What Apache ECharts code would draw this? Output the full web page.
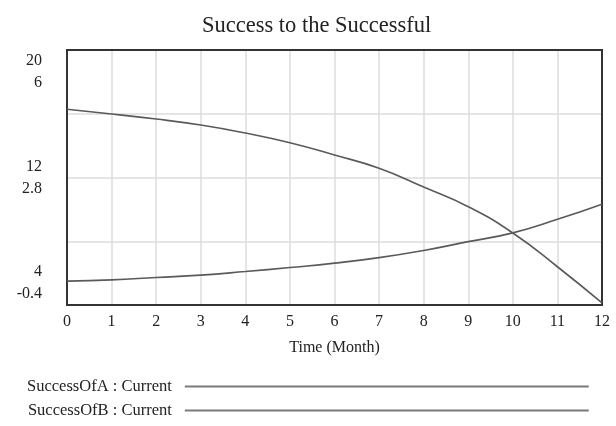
<!DOCTYPE html>
<html>
<head>
<meta charset="utf-8">
<title>Success to the Successful</title>
<script src="https://cdn.jsdelivr.net/npm/echarts@6/dist/echarts.min.js"></script>
<style>
  html, body { margin: 0; padding: 0; background: #fff; }
  #chart { width: 616px; height: 426px; }
</style>
</head>
<body>
<div id="chart"></div>
<script>
// ==================== 数据 ====================

// 时间（月）
const months = [0, 1, 2, 3, 4, 5, 6, 7, 8, 9, 10, 11, 12];

// SuccessOfA : Current（左轴上排刻度 4 ~ 20）
const successOfA = [16.28, 15.98, 15.67, 15.29, 14.79, 14.18, 13.41, 12.58, 11.40, 10.17, 8.52, 6.40, 4.13];

// SuccessOfB : Current（左轴下排刻度 -0.4 ~ 6）
const successOfB = [0.20, 0.23, 0.29, 0.35, 0.44, 0.54, 0.65, 0.79, 0.97, 1.19, 1.41, 1.75, 2.13];

// 刻度标签（两排成对显示）
const ticksA = [4, 12, 20];
const ticksB = [-0.4, 2.8, 6];

const seriesNames = ['SuccessOfA : Current', 'SuccessOfB : Current'];

// ==================== 图表 ====================

const FONT = '"Liberation Serif", "DejaVu Serif", serif';
const chart = echarts.init(document.getElementById('chart'));

// 成对的刻度文字：A 值在上，B 值在下
function pairLabel(value) {
  const i = ticksA.indexOf(value);
  if (i < 0) return '';
  return ticksA[i] + '\n' + ticksB[i];
}

const gridLine = { show: true, showMinLine: false, showMaxLine: false, lineStyle: { color: '#dcdcdc', width: 1.5 } };
const frameLine = { show: true, onZero: false, lineStyle: { color: '#333', width: 2 } };

chart.setOption({
  animation: false,
  title: {
    text: 'Success to the Successful',
    left: 197,
    top: 10,
    textStyle: { fontFamily: FONT, fontSize: 22.5, fontWeight: 'normal', color: '#222' }
  },
  grid: {
    left: 67, right: 14, top: 50, bottom: 121,
    show: true, borderColor: '#333', borderWidth: 2, z: 3
  },
  legend: {
    orient: 'vertical',
    align: 'right',
    left: 22,
    top: 373,
    itemWidth: 404,
    itemHeight: 14,
    itemGap: 7,
    data: seriesNames,
    itemStyle: { opacity: 0 },
    lineStyle: { color: '#7a7a7a', width: 2 },
    textStyle: { fontFamily: FONT, fontSize: 16.5, color: '#222', padding: [0, 8, 0, 0] }
  },
  xAxis: {
    type: 'value',
    min: 0, max: 12, interval: 1,
    name: 'Time (Month)',
    nameLocation: 'middle',
    nameGap: 35,
    nameTextStyle: { fontFamily: FONT, fontSize: 16, color: '#222' },
    axisLine: frameLine,
    axisTick: { show: false },
    axisLabel: { margin: 9, fontFamily: FONT, fontSize: 16, color: '#222' },
    splitLine: gridLine
  },
  yAxis: [
    {
      type: 'value',
      min: 4, max: 20, interval: 4,
      axisLine: frameLine,
      axisTick: { show: false },
      axisLabel: {
        margin: 25,
        fontFamily: FONT, fontSize: 16, lineHeight: 22, color: '#222',
        formatter: pairLabel,
        verticalAlignMaxLabel: 'top',
        verticalAlignMinLabel: 'bottom'
      },
      splitLine: gridLine
    },
    {
      type: 'value',
      min: -0.4, max: 6,
      show: false,
      splitLine: { show: false }
    }
  ],
  series: [
    {
      name: seriesNames[0],
      type: 'line',
      yAxisIndex: 0,
      data: months.map((m, i) => [m, successOfA[i]]),
      showSymbol: false,
      symbol: 'none',
      smooth: true,
      lineStyle: { color: '#5a5a5a', width: 1.6 },
      itemStyle: { color: '#5a5a5a' }
    },
    {
      name: seriesNames[1],
      type: 'line',
      yAxisIndex: 1,
      data: months.map((m, i) => [m, successOfB[i]]),
      showSymbol: false,
      symbol: 'none',
      smooth: true,
      lineStyle: { color: '#5a5a5a', width: 1.6 },
      itemStyle: { color: '#5a5a5a' }
    }
  ]
});
</script>
</body>
</html>
